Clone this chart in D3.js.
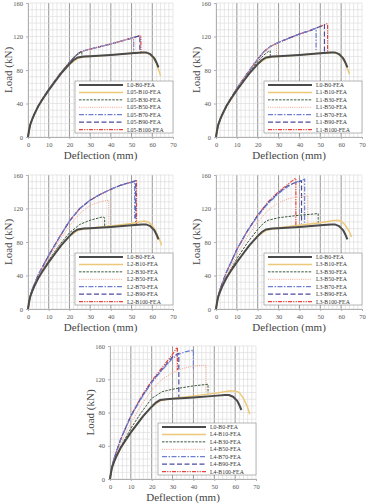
<!DOCTYPE html>
<html>
<head>
<meta charset="utf-8">
<script src="https://cdn.jsdelivr.net/npm/d3@7"></script>
<style>
  body { margin: 0; background: #fff; }
  svg text { font-family: "Liberation Serif", "DejaVu Serif", serif !important; font-weight: normal; }
</style>
</head>
<body>
<div id="chart"></div>
<script>
// tick values
var xTicks = [0, 10, 20, 30, 40, 50, 60, 70];
var yTicks = [0, 40, 80, 120, 160];

// series suffixes, same order in every panel
var suffixes = ["B0", "B10", "B30", "B50", "B70", "B90", "B100"];
var panelNames = ["L05", "L1", "L2", "L3", "L4"];

// control beam, the same in all panels
var baseB0 = [[0,0],[0.5,8],[1,14],[2,21],[3,27],[5,37],[7,45],[10,56],[13,66],[16,76],[20,87],[22,92],[24,95],[27,96],[30,96.5],[40,98],[50,100],[55,101],[57,101],[59,99],[61,94],[62,89],[63,83]];

var seriesL05 = [
  baseB0,
  [[0,0],[1,14],[2,21],[5,37],[10,56],[15,73],[20,87],[24,94],[27,95.5],[30,96],[40,98],[50,100],[56,101],[58,100],[60,96],[62,88],[63,81],[64,73]],
  [[0,0],[1,14],[2,21],[5,37],[10,57],[15,74],[20,89],[23,97],[25,101],[26,102],[26,96]],
  [[0,0],[1,14],[2,21],[5,37],[10,57],[15,74],[20,89],[23,97],[25,101],[27,103],[30,105],[40,111],[50,118],[51,119],[51,101]],
  [[0,0],[1,14],[2,21],[5,37],[10,57],[15,74],[20,89],[23,97],[25,101],[27,103],[30,105],[40,111],[50,118],[51,119],[51,100]],
  [[0,0],[1,14],[2,21],[5,37],[10,57],[15,74],[20,89],[23,97],[25,101],[27,103],[30,105],[40,111],[50,118],[54,121],[54,102]],
  [[0,0],[1,14],[2,21],[5,37],[10,57],[15,74],[20,89],[23,97],[25,101],[27,103],[30,105],[40,111],[50,118],[54.5,121],[54.5,100]]
];

var seriesL1 = [
  baseB0,
  [[0,0],[1,14],[2,21],[5,37],[10,56],[15,73],[20,87],[24,94],[27,95.5],[30,96],[40,98],[50,100],[56,101],[58,100],[60,96],[62,89],[63,82],[64,75]],
  [[0,0],[1,13],[2,20],[5,36],[10,56],[15,74],[20,90],[23,98],[25,102],[26,103],[26,96]],
  [[0,0],[1,14],[2,21],[5,37],[10,58],[15,76],[20,93],[23,102],[26,108],[29,112],[29,97]],
  [[0,0],[1,14],[2,21],[5,37],[10,58],[15,76],[20,93],[23,102],[26,108],[30,113],[35,118],[40,123],[45,127],[48,130],[48,104]],
  [[0,0],[1,14],[2,21],[5,37],[10,58],[15,76],[20,93],[23,102],[26,108],[30,113],[35,118],[40,123],[45,127],[50,132],[52,134],[52,100]],
  [[0,0],[1,14],[2,21],[5,37],[10,58],[15,76],[20,93],[23,102],[26,108],[30,113],[35,118],[40,123],[45,127],[50,132],[53,135],[53.5,135],[53.5,100]]
];

var seriesL2 = [
  baseB0,
  [[0,0],[1,14],[2,21],[5,37],[10,56],[15,73],[20,87],[24,94],[27,95.5],[30,96.5],[40,99],[50,102],[56,105],[58,104],[60,100],[62,91],[64,80],[64.5,76]],
  [[0,0],[1,14],[2,21],[5,37],[10,58],[15,76],[20,91],[25,101],[30,106],[36,110],[37,109],[37,98]],
  [[0,0],[1,14],[2,22],[5,39],[10,61],[15,81],[20,99],[25,114],[30,124],[35,128],[39,130],[39,98]],
  [[0,0],[1,15],[2,23],[5,41],[10,64],[15,85],[20,105],[25,120],[30,130],[35,137],[40,143],[45,148],[51.5,152],[51.5,108]],
  [[0,0],[1,15],[2,23],[5,41],[10,64],[15,85],[20,105],[25,120],[30,130],[35,137],[40,143],[45,148],[52,153],[52,102]],
  [[0,0],[1,15],[2,23],[5,41],[10,64],[15,85],[20,105],[25,120],[30,130],[35,137],[40,143],[45,148],[52,153],[52.4,153],[52.4,100]]
];

var seriesL3 = [
  baseB0,
  [[0,0],[1,14],[2,21],[5,37],[10,56],[15,73],[20,87],[24,94],[27,95.5],[30,97],[40,100],[50,103],[55,105],[58,106],[60,105],[62,100],[64,92],[65,86]],
  [[0,0],[1,14],[2,22],[5,38],[10,60],[15,79],[20,95],[23,103],[25,106],[30,109],[40,112],[45,113],[49,114],[49,101]],
  [[0,0],[1,15],[2,23],[5,41],[10,65],[15,86],[20,104],[25,118],[30,127],[35,132],[40,134],[44,135],[44,101]],
  [[0,0],[1,15],[2,24],[5,44],[10,71],[15,93],[20,111],[25,126],[30,138],[35,147],[38,151],[42.5,155],[42.5,103]],
  [[0,0],[1,15],[2,24],[5,44],[10,71],[15,93],[20,112],[25,127],[30,139],[35,148],[38,151],[41,153],[41,102]],
  [[0,0],[1,15],[2,24],[5,44],[10,71],[15,93],[20,112],[25,128],[30,140],[35,150],[38,156],[38.3,156],[38.3,100]]
];

var seriesL4 = [
  baseB0,
  [[0,0],[1,14],[2,21],[5,37],[10,56],[15,73],[20,87],[24,94],[27,95.5],[30,97],[40,100],[50,103],[57,106],[60,106],[62,104],[64,97],[66,86],[67,78]],
  [[0,0],[1,14],[2,22],[5,38],[10,61],[15,80],[20,97],[25,105],[30,108],[40,112],[47,114],[47,103]],
  [[0,0],[1,15],[2,23],[5,42],[10,67],[15,89],[20,107],[25,120],[30,128],[35,133],[40,136],[46,137],[46,105]],
  [[0,0],[1,16],[2,25],[5,47],[10,75],[15,97],[20,116],[25,131],[30,145],[33,150],[36,153],[40,155],[40,133]],
  [[0,0],[1,16],[2,25],[5,47],[10,76],[15,98],[20,117],[25,132],[30,147],[33,151],[33,97]],
  [[0,0],[1,16],[2,25],[5,47],[10,76],[15,99],[20,118],[25,134],[30,150],[32,158],[32.3,158],[32.3,131]]
];

var allSeries = [seriesL05, seriesL1, seriesL2, seriesL3, seriesL4];

// line styles per suffix
var styles = [
  {color: "#4a4a4a", w: 2, dash: null},
  {color: "#ecc878", w: 1.5, dash: null},
  {color: "#3d5a3d", w: 1, dash: "2.5,1.2"},
  {color: "#f2a48c", w: 1, dash: "1,1.2"},
  {color: "#6f7fd0", w: 1.2, dash: "5,1.5,1.5,1.5"},
  {color: "#4b4c9e", w: 1.2, dash: "5,2.5"},
  {color: "#e8413a", w: 1.2, dash: "4,1.2,1.2,1.2,1.2,1.2"}
];

var boxes = [
  {left: 28, top: 3, width: 145, height: 134},
  {left: 216, top: 3, width: 146, height: 134},
  {left: 28, top: 175, width: 145, height: 134},
  {left: 216, top: 175, width: 146, height: 134},
  {left: 110, top: 346, width: 146, height: 133}
];

var svg = d3.select("#chart").append("svg")
    .attr("width", 367)
    .attr("height", 504);

boxes.forEach(function (b, p) {
    var g = svg.append("g")
        .attr("transform", "translate(" + b.left + "," + b.top + ")");

    var x = d3.scaleLinear().domain([0, 70]).range([0, b.width]);
    var y = d3.scaleLinear().domain([0, 160]).range([b.height, 0]);

    // grid, darker every 10 mm
    g.append("g").selectAll("line")
        .data(d3.range(0, 71, 2))
        .enter().append("line")
        .attr("x1", function (d) { return x(d); })
        .attr("x2", function (d) { return x(d); })
        .attr("y1", 0).attr("y2", b.height)
        .attr("stroke", function (d) { return d % 10 === 0 && d > 0 && d < 70 ? "#8a8a8a" : "#d9d9d9"; })
        .attr("stroke-width", function (d) { return d % 10 === 0 && d > 0 && d < 70 ? 0.9 : 0.6; });

    g.append("g").selectAll("line")
        .data(d3.range(0, 161, 8))
        .enter().append("line")
        .attr("x1", 0).attr("x2", b.width)
        .attr("y1", function (d) { return y(d); })
        .attr("y2", function (d) { return y(d); })
        .attr("stroke", "#d9d9d9")
        .attr("stroke-width", 0.6);

    // axes
    var xAxis = g.append("g")
        .attr("transform", "translate(0," + b.height + ")")
        .call(d3.axisBottom(x).tickValues(xTicks).tickSize(2).tickPadding(3));
    var yAxis = g.append("g")
        .call(d3.axisLeft(y).tickValues(yTicks).tickSize(2).tickPadding(3));
    [xAxis, yAxis].forEach(function (a) {
        a.select(".domain").attr("stroke", "#b0b0b0");
        a.selectAll(".tick line").attr("stroke", "#b0b0b0");
        a.selectAll("text")
            .attr("font-size", 6.5)
            .attr("fill", "#555");
    });

    // axis titles
    g.append("text")
        .attr("x", b.width / 2)
        .attr("y", b.height + 22)
        .style("text-anchor", "middle")
        .attr("font-size", 11)
        .attr("fill", "#444")
        .text("Deflection (mm)");

    g.append("text")
        .attr("transform", "rotate(-90)")
        .attr("x", -b.height / 2)
        .attr("y", -16)
        .style("text-anchor", "middle")
        .attr("font-size", 11)
        .attr("fill", "#444")
        .text("Load (kN)");

    // curves
    var line = d3.line()
        .x(function (d) { return x(d[0]); })
        .y(function (d) { return y(d[1]); });

    var names = suffixes.map(function (s, i) {
        return (i === 0 ? "L0" : panelNames[p]) + "-" + s + "-FEA";
    });

    // strengthened beams first, control on top
    var order = [6, 5, 4, 3, 2, 1, 0];
    order.forEach(function (i) {
        g.append("path")
            .datum(allSeries[p][i])
            .attr("d", line)
            .attr("fill", "none")
            .attr("stroke", styles[i].color)
            .attr("stroke-width", styles[i].w)
            .attr("stroke-dasharray", styles[i].dash);
    });

    // legend
    var lw = 98, lh = 52;
    var leg = g.append("g")
        .attr("transform", "translate(" + (b.width - lw) + "," + (b.height - lh - 4) + ")");
    leg.append("rect")
        .attr("width", lw).attr("height", lh)
        .attr("fill", "#fff")
        .attr("stroke", "#888")
        .attr("stroke-width", 0.6);

    var rowH = lh / 7;
    names.forEach(function (n, i) {
        var cy = 4 + rowH * i;
        leg.append("line")
            .attr("x1", 4).attr("x2", 48)
            .attr("y1", cy).attr("y2", cy)
            .attr("stroke", styles[i].color)
            .attr("stroke-width", styles[i].w)
            .attr("stroke-dasharray", styles[i].dash);
        leg.append("text")
            .attr("x", 52)
            .attr("y", cy + 2)
            .attr("font-size", 5.8)
            .attr("fill", "#333")
            .text(n);
    });
});
</script>
</body>
</html>
